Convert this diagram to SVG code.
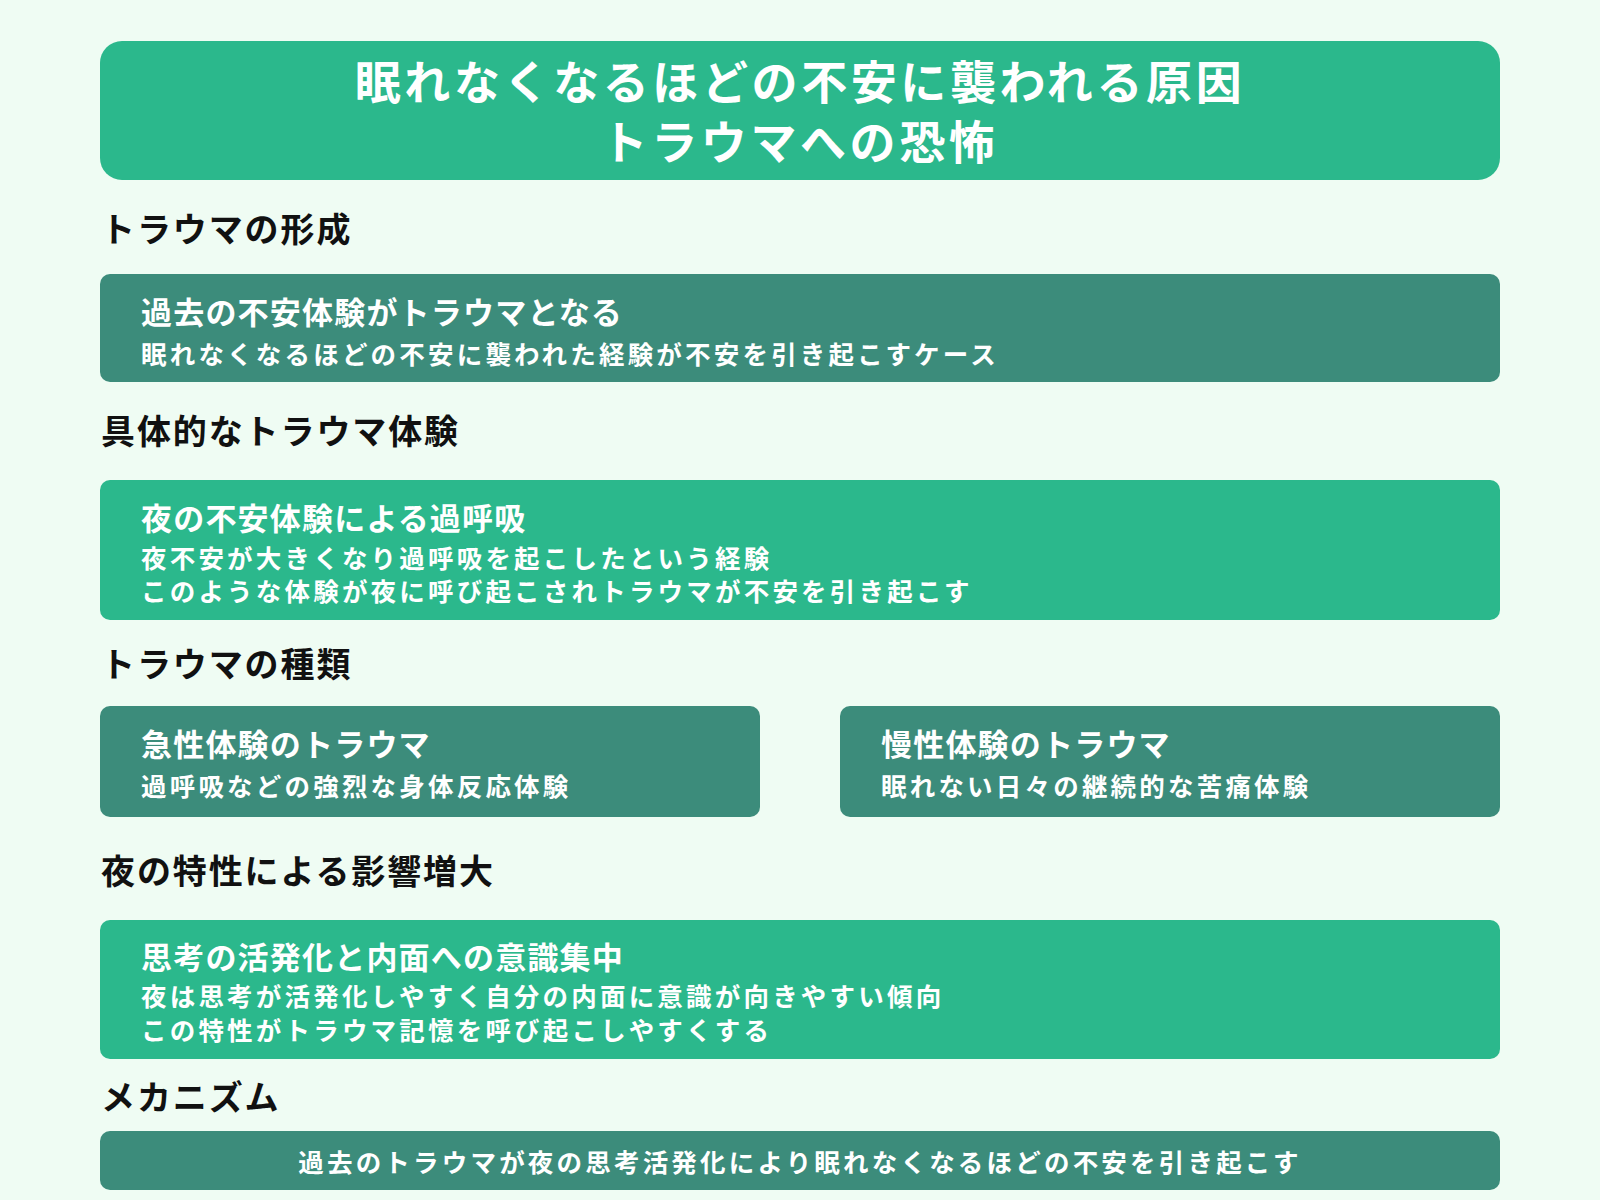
<svg xmlns="http://www.w3.org/2000/svg" width="1600" height="1200" viewBox="0 0 1600 1200">
<style>
text{font-family:"Noto Sans CJK JP","Noto Sans",sans-serif;font-weight:bold;dominant-baseline:central}
.h{font-size:34px;fill:#111;letter-spacing:1.9px}
.t{font-size:31px;fill:#fff;letter-spacing:1.2px}
.s{font-size:25.5px;fill:#fff;letter-spacing:3.2px}
.g{fill:#2bb88c}
.d{fill:#3c8c7b}
</style>
<rect width="1600" height="1200" fill="#effcf3"/>
<g id="title"><rect class="g" x="100" y="41" width="1400" height="139" rx="22"/>
<text x="800" y="79" text-anchor="middle" style="font-size:46px;fill:#fff;letter-spacing:3.6px">眠れなくなるほどの不安に襲われる原因</text>
<text x="800" y="139" text-anchor="middle" style="font-size:46px;fill:#fff;letter-spacing:3.6px">トラウマへの恐怖</text></g>
<g id="h1"><text class="h" x="101" y="227">トラウマの形成</text></g>
<g id="n1"><rect class="d" x="100" y="274" width="1400" height="108" rx="10"/>
<text class="t" x="141" y="310">過去の不安体験がトラウマとなる</text>
<text class="s" x="141" y="352">眠れなくなるほどの不安に襲われた経験が不安を引き起こすケース</text></g>
<g id="h2"><text class="h" x="101" y="429">具体的なトラウマ体験</text></g>
<g id="n2"><rect class="g" x="100" y="480" width="1400" height="140" rx="10"/>
<text class="t" x="141" y="516">夜の不安体験による過呼吸</text>
<text class="s" x="141" y="556">夜不安が大きくなり過呼吸を起こしたという経験</text>
<text class="s" x="141" y="589">このような体験が夜に呼び起こされトラウマが不安を引き起こす</text></g>
<g id="h3"><text class="h" x="101" y="662">トラウマの種類</text></g>
<g id="n3a"><rect class="d" x="100" y="706" width="660" height="111" rx="10"/>
<text class="t" x="141" y="742">急性体験のトラウマ</text>
<text class="s" x="141" y="784">過呼吸などの強烈な身体反応体験</text></g>
<g id="n3b"><rect class="d" x="840" y="706" width="660" height="111" rx="10"/>
<text class="t" x="881" y="742">慢性体験のトラウマ</text>
<text class="s" x="881" y="784">眠れない日々の継続的な苦痛体験</text></g>
<g id="h4"><text class="h" x="101" y="869">夜の特性による影響増大</text></g>
<g id="n4"><rect class="g" x="100" y="920" width="1400" height="139" rx="10"/>
<text class="t" x="141" y="955">思考の活発化と内面への意識集中</text>
<text class="s" x="141" y="994">夜は思考が活発化しやすく自分の内面に意識が向きやすい傾向</text>
<text class="s" x="141" y="1028">この特性がトラウマ記憶を呼び起こしやすくする</text></g>
<g id="h5"><text class="h" x="101" y="1095">メカニズム</text></g>
<g id="n5"><rect class="d" x="100" y="1131" width="1400" height="59" rx="10"/>
<text class="s" x="800" y="1160" text-anchor="middle">過去のトラウマが夜の思考活発化により眠れなくなるほどの不安を引き起こす</text></g>
<g id="connectors"/>
</svg>
